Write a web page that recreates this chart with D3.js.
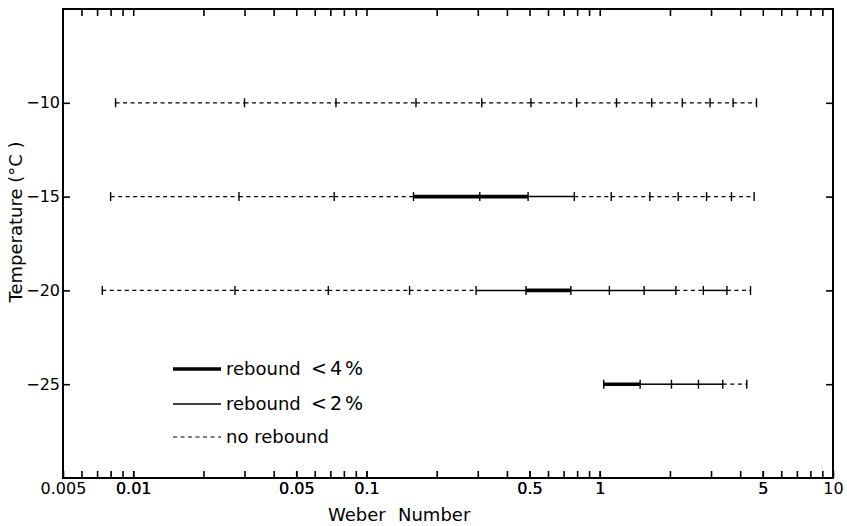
<!DOCTYPE html>
<html>
<head>
<meta charset="utf-8">
<script src="https://cdn.jsdelivr.net/npm/d3@7"></script>
<style>
  body { margin: 0; background: #fff; }
  svg { display: block; }
  text { font-family: "DejaVu Sans", sans-serif; fill: #000; }
</style>
</head>
<body>
<svg id="chart" width="847" height="526"></svg>
<script>
// ---- data ----
const temperatures = [-10, -15, -20, -25];
// Weber numbers of the measurement points on each temperature row
const weberM10 = [0.0084, 0.030, 0.074, 0.163, 0.312, 0.507, 0.796, 1.18, 1.67, 2.26, 2.97, 3.73, 4.70];
const weberM15 = [0.0080, 0.0284, 0.0727, 0.159, 0.306, 0.493, 0.778, 1.12, 1.64, 2.17, 2.87, 3.67, 4.59];
const weberM20 = [0.00737, 0.0273, 0.0686, 0.153, 0.295, 0.483, 0.752, 1.10, 1.55, 2.12, 2.78, 3.51, 4.43];
const weberM25 = [1.04, 1.49, 2.03, 2.65, 3.37, 4.27];
// segment class between consecutive points: "4" rebound <4%, "2" rebound <2%, "0" no rebound
const classM10 = ["0","0","0","0","0","0","0","0","0","0","0","0"];
const classM15 = ["0","0","0","4","4","2","0","0","0","0","0","0"];
const classM20 = ["0","0","0","0","2","4","2","2","2","0","2","0"];
const classM25 = ["4","2","2","2","0"];
const xTickValues = [0.006,0.007,0.008,0.009,0.01,0.02,0.03,0.04,0.05,0.06,0.07,0.08,0.09,0.1,
                     0.2,0.3,0.4,0.5,0.6,0.7,0.8,0.9,1,2,3,4,5,6,7,8,9];
const xTickLabels = [0.005, 0.01, 0.05, 0.1, 0.5, 1, 5, 10];
const xLabelText = {0.005:"0.005",0.01:"0.01",0.05:"0.05",0.1:"0.1",0.5:"0.5",1:"1",5:"5",10:"10"};
const yTickValues = [-10, -15, -20, -25];
const legendItems = [
  {cls:"4", label:"rebound", sub:"<4%"},
  {cls:"2", label:"rebound", sub:"<2%"},
  {cls:"0", label:"no rebound", sub:""}
];

const rows = [
  {t: temperatures[0], w: weberM10, c: classM10},
  {t: temperatures[1], w: weberM15, c: classM15},
  {t: temperatures[2], w: weberM20, c: classM20},
  {t: temperatures[3], w: weberM25, c: classM25}
];

// ---- layout ----
const L = 63, R = 833, T = 9, B = 478;
const svg = d3.select("#chart");
const x = d3.scaleLog().domain([0.005, 10]).range([L, R]);
const y = d3.scaleLinear().domain([-30, -5]).range([B, T]);

const styles = {
  "4": {w: 3.6, dash: null},
  "2": {w: 1.5, dash: null},
  "0": {w: 1.2, dash: "4,3.5"}
};

// axes
const gB = svg.append("g").attr("transform", `translate(0,${B})`)
  .call(d3.axisBottom(x).tickValues(xTickValues.concat(xTickLabels))
    .tickSize(-7).tickPadding(5)
    .tickFormat(d => xTickLabels.includes(d) ? xLabelText[d] : ""));
gB.select(".domain").remove();
gB.selectAll("text").style("font-size", "16px");
gB.selectAll("line").attr("stroke-width", 1.6);

const gT = svg.append("g").attr("transform", `translate(0,${T})`)
  .call(d3.axisTop(x).tickValues(xTickValues).tickSize(-7).tickFormat(""));
gT.select(".domain").remove();
gT.selectAll("line").attr("stroke-width", 1.6);

const gL = svg.append("g").attr("transform", `translate(${L},0)`)
  .call(d3.axisLeft(y).tickValues(yTickValues).tickSize(-7).tickPadding(3)
    .tickFormat(d => "\u2212" + Math.abs(d)));
gL.select(".domain").remove();
gL.selectAll("text").style("font-size", "16px");
gL.selectAll("line").attr("stroke-width", 1.6);

const gR = svg.append("g").attr("transform", `translate(${R},0)`)
  .call(d3.axisRight(y).tickValues(yTickValues).tickSize(-7).tickFormat(""));
gR.select(".domain").remove();
gR.selectAll("line").attr("stroke-width", 1.6);

// frame
svg.append("rect").attr("x", L).attr("y", T).attr("width", R - L).attr("height", B - T)
  .attr("fill", "none").attr("stroke", "#000").attr("stroke-width", 2);

// data rows
rows.forEach(r => {
  const g = svg.append("g");
  const yy = y(r.t);
  r.c.forEach((cls, i) => {
    const s = styles[cls];
    g.append("line")
      .attr("x1", x(r.w[i])).attr("x2", x(r.w[i + 1]))
      .attr("y1", yy).attr("y2", yy)
      .attr("stroke", "#000").attr("stroke-width", s.w)
      .attr("stroke-dasharray", s.dash);
  });
  g.selectAll("line.mk").data(r.w).enter().append("line").attr("class", "mk")
    .attr("x1", d => x(d)).attr("x2", d => x(d))
    .attr("y1", yy - 4.5).attr("y2", yy + 4.5)
    .attr("stroke", "#000").attr("stroke-width", 1.4);
});

// legend
const legY = [369, 404, 437];
legendItems.forEach((it, i) => {
  const s = styles[it.cls];
  svg.append("line").attr("x1", 173).attr("x2", 221).attr("y1", legY[i]).attr("y2", legY[i])
    .attr("stroke", "#000").attr("stroke-width", s.w).attr("stroke-dasharray", s.dash);
  svg.append("text").attr("x", 226).attr("y", legY[i] + 6).style("font-size", "18px").text(it.label);
  if (it.sub) svg.append("text").attr("x", 311).attr("y", legY[i] + 6)
    .style("font-size", "19px").style("letter-spacing", "3px").text(it.sub);
});

// axis titles
svg.append("text").attr("x", 328).attr("y", 521).style("font-size", "18px").text("Weber");
svg.append("text").attr("x", 398).attr("y", 521).style("font-size", "18px").text("Number");
svg.append("text").attr("transform", "translate(22,222) rotate(-90)")
  .attr("text-anchor", "middle").style("font-size", "18px").text("Temperature  (\u00B0C )");
</script>
</body>
</html>
